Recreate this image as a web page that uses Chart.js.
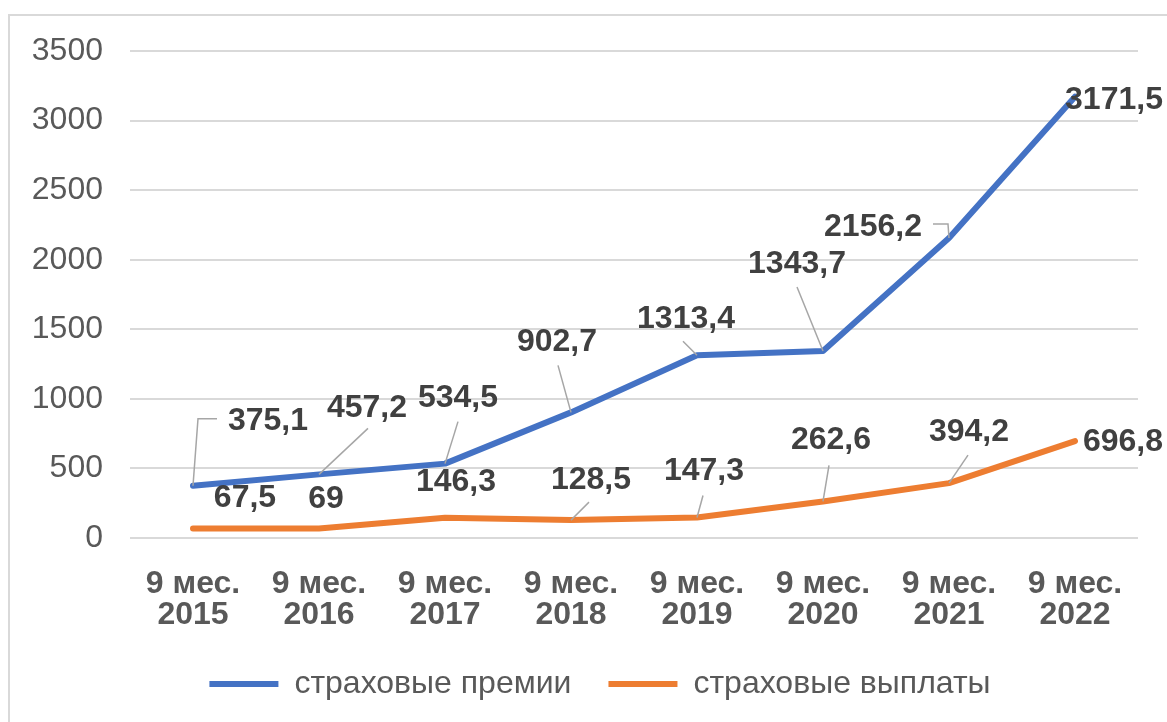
<!DOCTYPE html>
<html>
<head>
<meta charset="utf-8">
<script src="https://cdn.jsdelivr.net/npm/chart.js@4.4.1/dist/chart.umd.min.js"></script>
<style>
    html, body { margin: 0; padding: 0; background: #fff; overflow: hidden; }
    #frame { position: absolute; left: 8px; top: 14px; width: 1400px; height: 1000px; border: 2px solid #d9d9d9; }
    #chart { position: absolute; left: 0; top: 0; }
</style>
</head>
<body>
<div id="frame"></div>
<canvas id="chart" width="1167" height="722"></canvas>
<script>
// --- data ---
const categories = [
    ['9 мес.', '2015'], ['9 мес.', '2016'], ['9 мес.', '2017'], ['9 мес.', '2018'],
    ['9 мес.', '2019'], ['9 мес.', '2020'], ['9 мес.', '2021'], ['9 мес.', '2022']
];
const premiums = [375.1, 457.2, 534.5, 902.7, 1313.4, 1343.7, 2156.2, 3171.5];
const payouts = [67.5, 69, 146.3, 128.5, 147.3, 262.6, 394.2, 696.8];
const seriesNames = ['страховые премии', 'страховые выплаты'];
const yMin = 0, yMax = 3500, yStep = 500;

// --- label placement (offset of text centre from the point, leader polyline) ---
const premiumLabelOffsets = [[75, -66], [48, -67], [13, -66], [-14, -71], [-11, -37], [-26, -88], [-76, -12], [39, 2]];
const premiumLeaders = [
    [[5, -67], [24, -67]], [[49, -46]], [[13, -42]], [[-13, -47]],
    [[-14, -14]], [[-26, -64]], [[-1, -14], [-16, -14]], null
];
const payoutLabelOffsets = [[52, -31], [7, -30], [11, -36], [20, -41], [7, -47], [8, -62], [20, -52], [48, 0]];
const payoutLeaders = [null, null, null, [[18, -18]], [[6, -22]], [[6, -36]], [[19, -28]], null];

const FONT = "'Liberation Sans', Arial, sans-serif";

const dataLabels = {
    id: 'dataLabels',
    afterDatasetsDraw(chart) {
        const ctx = chart.ctx;
        const placements = [
            { offsets: premiumLabelOffsets, leaders: premiumLeaders },
            { offsets: payoutLabelOffsets, leaders: payoutLeaders }
        ];
        ctx.save();
        // leader lines first, then the text on top
        chart.data.datasets.forEach((ds, di) => {
            const meta = chart.getDatasetMeta(di);
            const place = placements[di];
            meta.data.forEach((pt, i) => {
                const leader = place.leaders[i];
                if (leader) {
                    ctx.beginPath();
                    ctx.strokeStyle = '#a6a6a6';
                    ctx.lineWidth = 1.5;
                    ctx.moveTo(pt.x, pt.y);
                    leader.forEach(p => ctx.lineTo(pt.x + p[0], pt.y + p[1]));
                    ctx.stroke();
                }
            });
        });
        chart.data.datasets.forEach((ds, di) => {
            const meta = chart.getDatasetMeta(di);
            const place = placements[di];
            meta.data.forEach((pt, i) => {
                const off = place.offsets[i];
                ctx.font = 'bold 32px ' + FONT;
                ctx.fillStyle = '#404040';
                ctx.textAlign = 'center';
                ctx.textBaseline = 'middle';
                ctx.fillText(String(ds.data[i]).replace('.', ','), pt.x + off[0], pt.y + off[1] + 1);
            });
        });
        ctx.restore();
    }
};

// the legend sits a little right of the canvas centre in the original
const legendShift = {
    id: 'legendShift',
    afterLayout(chart) {
        chart.legend.left += 31;
        chart.legend.right += 31;
    }
};

new Chart(document.getElementById('chart'), {
    type: 'line',
    data: {
        labels: categories,
        datasets: [
            {
                label: seriesNames[0],
                data: premiums,
                borderColor: '#4472C4',
                backgroundColor: '#4472C4',
                borderWidth: 6,
                borderCapStyle: 'round',
                borderJoinStyle: 'round',
                pointRadius: 0,
                tension: 0
            },
            {
                label: seriesNames[1],
                data: payouts,
                borderColor: '#ED7D31',
                backgroundColor: '#ED7D31',
                borderWidth: 6,
                borderCapStyle: 'round',
                borderJoinStyle: 'round',
                pointRadius: 0,
                tension: 0
            }
        ]
    },
    options: {
        responsive: false,
        animation: false,
        layout: { padding: { left: 0, top: 51, right: 29, bottom: 12 } },
        scales: {
            x: {
                offset: true,
                grid: { display: false },
                border: { display: false },
                ticks: {
                    color: '#595959',
                    font: { family: FONT, size: 32, weight: 'bold', lineHeight: 0.97 },
                    padding: 23,
                    maxRotation: 0,
                    autoSkip: false
                },
                afterFit: scale => { scale.height = 93; }
            },
            y: {
                min: yMin,
                max: yMax,
                grid: { color: '#d9d9d9', lineWidth: 2, drawTicks: false },
                border: { display: false },
                ticks: {
                    stepSize: yStep,
                    color: '#595959',
                    font: { family: FONT, size: 32 },
                    padding: 27,
                    callback: v => String(v)
                },
                afterFit: scale => { scale.width = 130; }
            }
        },
        plugins: {
            legend: {
                position: 'bottom',
                labels: {
                    usePointStyle: true,
                    pointStyle: 'line',
                    pointStyleWidth: 69,
                    color: '#595959',
                    font: { family: FONT, size: 32 },
                    padding: 37
                }
            },
            tooltip: { enabled: false }
        }
    },
    plugins: [dataLabels, legendShift]
});
</script>
</body>
</html>
